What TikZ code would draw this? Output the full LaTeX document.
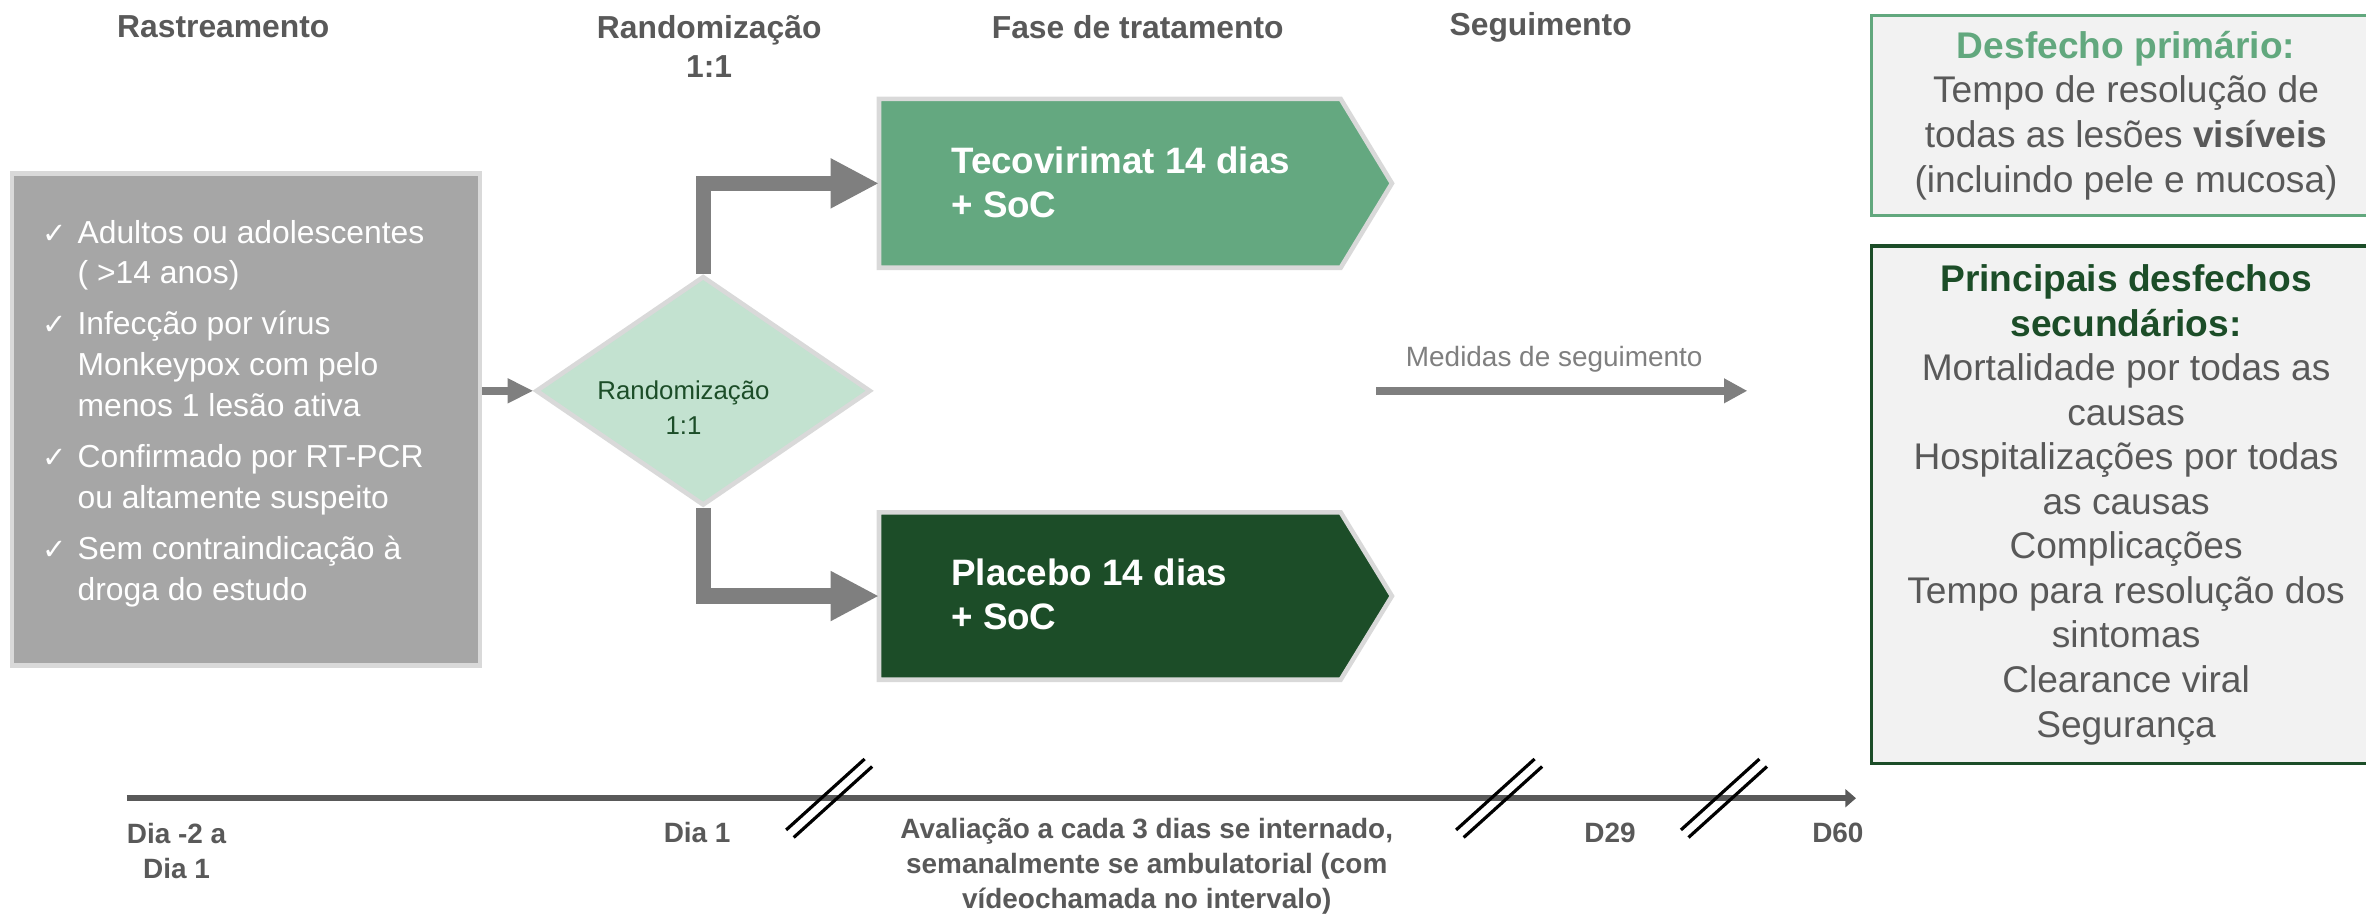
\documentclass[tikz,border=0pt]{standalone}
\usepackage{fontspec}
\setmainfont{Liberation Sans}
\newfontfamily\symfont{DejaVu Sans}
\usetikzlibrary{arrows.meta,shapes.geometric,backgrounds}
\definecolor{hdr}{HTML}{595959}
\definecolor{arr}{HTML}{7F7F7F}
\definecolor{bord}{HTML}{D9D9D9}
\definecolor{scr}{HTML}{A6A6A6}
\definecolor{diam}{HTML}{C3E2D0}
\definecolor{teco}{HTML}{64A880}
\definecolor{plac}{HTML}{1C4D28}
\definecolor{prim}{HTML}{62A87E}
\definecolor{sec}{HTML}{1C4D28}
\definecolor{lbg}{HTML}{F2F2F2}
\def\u{0.015cm}
\newcommand{\chk}{\makebox[9.8pt][l]{\symfont\fontsize{8.2}{8.2}\selectfont ✓}}
\begin{document}
\begin{tikzpicture}[x=0.015cm,y=-0.015cm,
  hdrtxt/.style={font=\fontsize{9}{11.1}\selectfont\bfseries, text=hdr, align=center, inner sep=0},
  daytxt/.style={font=\fontsize{7.9}{9.8}\selectfont\bfseries, text=hdr, align=center, inner sep=0},
  armbox/.style={minimum width=305*\u, inner sep=0, draw=none},
  armborder/.style={draw=bord, line width=1.3pt, line join=miter},
  armtxt/.style={font=\fontsize{10.4}{12.4}\selectfont\bfseries, text=white, align=left, inner sep=0, anchor=west},
  elbow/.style={draw=arr, line width=4.3pt, line join=miter, -{Triangle[length=13.7pt,width=13.2pt]}},
  smallarrow/.style={draw=arr, line width=2.3pt, -{Triangle[length=7.3pt,width=6.6pt]}},
  followarrow/.style={draw=arr, line width=2.3pt, -{Triangle[length=6.6pt,width=6.6pt]}},
  timeline/.style={draw=hdr, line width=1.7pt, -{Triangle[length=3pt,width=5pt]}},
  breakmark/.style={draw=black, line width=0.9pt},
  outbox/.style={fill=lbg, align=center, inner sep=0, text=hdr, minimum width=338*\u,
    font=\fontsize{10.5}{12.6}\selectfont}
]
\useasboundingbox (0,0) rectangle (1568,606);

% headers
\node[hdrtxt] (h1) at (148,18) {Rastreamento};
\node[hdrtxt] (h2) at (470,31) {Randomização\\1:1};
\node[hdrtxt] (h3) at (754,18) {Fase de tratamento};
\node[hdrtxt] (h4) at (1021,18) {Seguimento};

% screening box
\node[fill=scr, draw=bord, line width=1.3pt, minimum width=310*\u, minimum height=326*\u, inner sep=0] (screen) at (163,278) {};
\node[anchor=west, text=white, inner sep=0, font=\fontsize{9}{11.5}\selectfont] (screentxt) at (28,274) {%
\begin{tabular}{@{}l@{}l@{}}
\chk & Adultos ou adolescentes\\
 & ( >14 anos)\\[3pt]
\chk & Infecção por vírus\\
 & Monkeypox com pelo\\
 & menos 1 lesão ativa\\[3pt]
\chk & Confirmado por RT-PCR\\
 & ou altamente suspeito\\[3pt]
\chk & Sem contraindicação à\\
 & droga do estudo
\end{tabular}};

% diamond
\node[shape=diamond, fill=diam, draw=bord, line width=1.3pt, minimum width=222*\u, minimum height=152*\u, inner sep=0] (rand) at (466,259) {};
\node[font=\fontsize{7.3}{9.8}\selectfont, text=sec, align=center, inner sep=0] (randtxt) at (453,270) {Randomização\\1:1};

% arms
\node[armbox, minimum height=111*\u] (tec) at (735.5,121.5) {};
\node[armbox, minimum height=110*\u] (pla) at (735.5,395) {};
\begin{scope}[on background layer]
\draw[armborder, fill=teco] (tec.north west) -- (tec.north east) -- ([xshift=34*\u]tec.east) -- (tec.south east) -- (tec.south west) -- cycle;
\draw[armborder, fill=plac] (pla.north west) -- (pla.north east) -- ([xshift=34*\u]pla.east) -- (pla.south east) -- (pla.south west) -- cycle;
\end{scope}
\node[armtxt] (tectxt) at (630,121) {Tecovirimat 14 dias\\+ SoC};
\node[armtxt] (platxt) at (630,394) {Placebo 14 dias\\+ SoC};

% connectors
\draw[smallarrow] (rand.west -| screen.east) -- (rand.west);
\draw[elbow] (rand.north) |- (tec.west);
\draw[elbow] (rand.south) |- (pla.west);

% follow-up arrow
\coordinate (m0) at (912,259);
\coordinate (m1) at (1158,259);
\draw[followarrow] (m0) -- (m1);
\node[font=\fontsize{7.9}{9.5}\selectfont, text=arr, inner sep=0] (medlbl) at (1030,238) {Medidas de seguimento};

% outcome boxes
\node[outbox, draw=prim, line width=0.8pt, minimum height=133*\u] (prim) at (1409,76.5)
 {{\bfseries\color{prim}Desfecho primário:}\\Tempo de resolução de\\todas as lesões \textbf{visíveis}\\(incluindo pele e mucosa)};
\node[outbox, draw=sec, line width=0.9pt, minimum height=343*\u] (secbox) at (1409,334.5)
 {{\bfseries\color{sec}Principais desfechos}\\{\bfseries\color{sec}secundários:}\\Mortalidade por todas as\\causas\\Hospitalizações por todas\\as causas\\Complicações\\Tempo para resolução dos\\sintomas\\Clearance viral\\Segurança};

% timeline
\coordinate (t0) at (84,529);
\coordinate (t1) at (1230,529);
\draw[timeline] (t0) -- (t1);
\foreach \bx/\nm in {521/b1, 965/b2, 1114/b3} {
  \coordinate (\nm a) at (\bx,550);
  \coordinate (\nm b) at (\bx+52,503);
  \coordinate (\nm c) at (\bx+5,555);
  \coordinate (\nm d) at (\bx+57,508);
  \draw[breakmark] (\nm a) -- (\nm b);
  \draw[breakmark] (\nm c) -- (\nm d);
}

% day labels
\node[daytxt] (d0) at (117,564) {Dia -2 a\\Dia 1};
\node[daytxt] (d1) at (462,552) {Dia 1};
\node[daytxt] (dav) at (760,574) {Avaliação a cada 3 dias se internado,\\semanalmente se ambulatorial (com\\vídeochamada no intervalo)};
\node[daytxt] (d29) at (1067,552) {D29};
\node[daytxt] (d60) at (1218,552) {D60};
\end{tikzpicture}
\end{document}
